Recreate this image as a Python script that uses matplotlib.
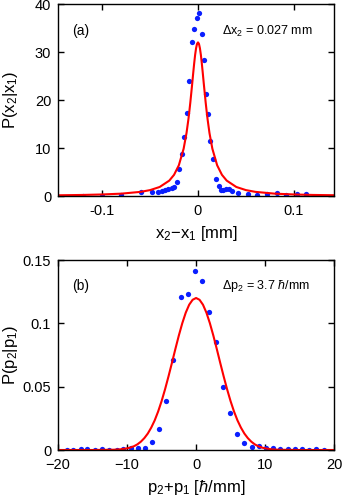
import matplotlib
matplotlib.use('Agg')
import matplotlib.pyplot as plt

plt.rcParams['font.family'] = ['Liberation Sans', 'DejaVu Sans']
plt.rcParams['mathtext.fontset'] = 'custom'
plt.rcParams['mathtext.rm'] = 'Liberation Sans'
plt.rcParams['mathtext.it'] = 'Liberation Sans:italic'

# panel (a): position correlation, measured points
xa = [-0.1205, -0.1003, -0.080, -0.0597, -0.0476, -0.0414, -0.0378, -0.0344,
      -0.031, -0.0274, -0.0247, -0.0219, -0.0195, -0.0167, -0.0143, -0.0115,
      -0.009, -0.0066, -0.0038, -0.0014, 0.0014, 0.0038, 0.0066, 0.0087,
      0.0107, 0.0128, 0.0156, 0.0191, 0.0216, 0.024, 0.0264, 0.0292, 0.032,
      0.035, 0.0413, 0.0517, 0.062, 0.072, 0.0826, 0.092, 0.103, 0.1125]
ya = [0.06, 0.1, 0.3, 0.77, 0.9, 0.9, 1.1, 1.25,
      1.4, 1.6, 1.8, 3.0, 5.6, 8.7, 12.2, 17.3,
      24.0, 32.1, 34.8, 37.0, 38.2, 33.75, 28.3, 21.25,
      17.0, 11.4, 7.8, 3.5, 2.1, 1.25, 1.25, 1.4, 1.5,
      1.1, 0.55, 0.5, 0.3, 0.35, 0.6, 0.2, 0.35, 0.35]

# panel (a): fitted curve
xa_fit = [-0.15, -0.12, -0.1, -0.08, -0.06, -0.05, -0.04, -0.03, -0.025,
          -0.02, -0.015, -0.012, -0.01, -0.009, -0.008, -0.007, -0.006,
          -0.005, -0.004, -0.003, -0.002, -0.001, 0.0, 0.001, 0.002, 0.003,
          0.004, 0.005, 0.006, 0.007, 0.008, 0.009, 0.01, 0.012, 0.015,
          0.02, 0.025, 0.03, 0.04, 0.05, 0.06, 0.08, 0.1, 0.12, 0.15]
ya_fit = [0.14, 0.22, 0.32, 0.49, 0.86, 1.23, 1.88, 3.2, 4.41,
          6.4, 9.85, 13.1, 16.0, 17.7, 19.5, 21.5, 23.5,
          25.6, 27.6, 29.4, 30.8, 31.7, 32.0, 31.7, 30.8, 29.4,
          27.6, 25.6, 23.5, 21.5, 19.5, 17.7, 16.0, 13.1, 9.85,
          6.4, 4.41, 3.2, 1.88, 1.23, 0.86, 0.49, 0.32, 0.22, 0.14]

# panel (b): momentum correlation, measured points
xb = [-18.75, -17.8, -16.7, -15.8, -14.7, -13.6, -12.6, -11.5, -10.55, -9.5,
      -8.4, -7.4, -6.35, -5.34, -4.37, -3.36, -2.24, -1.23, -0.22, 0.84,
      1.9, 2.9, 3.93, 4.95, 5.95, 7.0, 8.08, 9.1, 10.2, 11.2, 12.2, 13.3,
      14.3, 15.3, 16.4, 17.4, 18.5]
yb = [0.0003, 0.0, 0.0005, 0.0005, 0.0003, 0.0005, 0.0003, 0.0003, 0.0008, 0.0014,
      0.0014, 0.0017, 0.0061, 0.0166, 0.039, 0.0707, 0.1206, 0.1234, 0.141, 0.1334,
      0.1087, 0.0851, 0.050, 0.029, 0.0123, 0.0052, 0.0024, 0.0031, 0.0018, 0.0018,
      0.0008, 0.0005, 0.001, 0.0005, 0.0002, 0.0008, 0.0]

# panel (b): fitted curve
xb_fit = [-20, -15, -12, -11, -10, -9.5, -9, -8.5, -8, -7.5, -7, -6.5, -6,
          -5.5, -5, -4.5, -4, -3.5, -3, -2.5, -2, -1.5, -1, -0.5, 0,
          0.5, 1, 1.5, 2, 2.5, 3, 3.5, 4, 4.5, 5, 5.5, 6, 6.5, 7, 7.5,
          8, 8.5, 9, 9.5, 10, 11, 12, 15, 20]
yb_fit = [0.0, 0.0, 0.0002, 0.0005, 0.0013, 0.0020, 0.0030, 0.0045, 0.0066,
          0.0094, 0.0130, 0.0177, 0.0234, 0.0304, 0.0386, 0.0479, 0.0581,
          0.0688, 0.0798, 0.0904, 0.1001, 0.1084, 0.1147, 0.1186, 0.1200,
          0.1186, 0.1147, 0.1084, 0.1001, 0.0904, 0.0798, 0.0688, 0.0581,
          0.0479, 0.0386, 0.0304, 0.0234, 0.0177, 0.0130, 0.0094, 0.0066,
          0.0045, 0.0030, 0.0020, 0.0013, 0.0005, 0.0002, 0.0, 0.0]

fig = plt.figure(figsize=(3.44, 5.0), dpi=100)
ax1 = fig.add_axes([0.169, 0.608, 0.802, 0.384])
ax2 = fig.add_axes([0.169, 0.100, 0.802, 0.380])

for ax in (ax1, ax2):
    ax.tick_params(direction='in', top=True, right=True, length=4, width=1,
                   labelsize=10.5)
    ax.tick_params(axis='x', pad=6)
    ax.tick_params(axis='y', pad=5)
    for s in ax.spines.values():
        s.set_linewidth(1.0)

# (a)
ax1.plot(xa, ya, 'o', color='#0a1eff', markersize=3.8, markeredgewidth=0)
ax1.plot(xa_fit, ya_fit, '-', color='#ff0000', linewidth=1.5)
ax1.set_xlim(-0.146, 0.142)
ax1.set_ylim(0, 40)
ax1.set_xticks([-0.1, 0, 0.1])
ax1.set_xticklabels(['-0.1', '0', '0.1'])
ax1.set_yticks([0, 10, 20, 30, 40])
ax1.set_xlabel('x$_2$\u2212x$_1$ [mm]', fontsize=12)
ax1.set_ylabel('P(x$_2$|x$_1$)', fontsize=12)
ax1.xaxis.set_label_coords(0.5, -0.148)
ax1.yaxis.set_label_coords(-0.14, 0.5)
ax1.text(-0.131, 34.3, '(a)', fontsize=10, va='center')
ax1.text(0.025, 34.3, '\u0394x$_2$ = 0.027 mm', fontsize=9, va='center')

# (b)
ax2.plot(xb, yb, 'o', color='#0a1eff', markersize=3.8, markeredgewidth=0)
ax2.plot(xb_fit, yb_fit, '-', color='#ff0000', linewidth=1.5)
ax2.set_xlim(-20, 20)
ax2.set_ylim(0, 0.15)
ax2.set_xticks([-20, -10, 0, 10, 20])
ax2.set_yticks([0, 0.05, 0.1, 0.15])
ax2.set_yticklabels(['0', '0.05', '0.1', '0.15'])
ax2.set_xlabel('p$_2$+p$_1$ [$\\hbar$/mm]', fontsize=12)
ax2.set_ylabel('P(p$_2$|p$_1$)', fontsize=12)
ax2.xaxis.set_label_coords(0.5, -0.145)
ax2.yaxis.set_label_coords(-0.138, 0.5)
ax2.text(-17.9, 0.1297, '(b)', fontsize=10, va='center')
ax2.text(3.7, 0.1297, '\u0394p$_2$ = 3.7 $\\hbar$/mm', fontsize=9, va='center')

fig.savefig('out.png', dpi=100)
